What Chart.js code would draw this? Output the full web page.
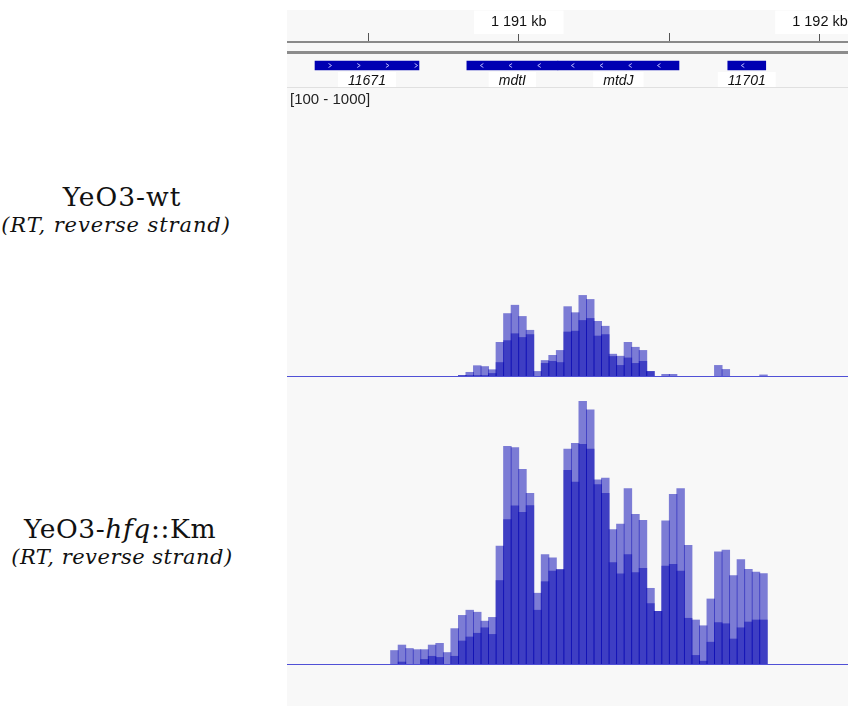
<!DOCTYPE html>
<html>
<head>
<meta charset="utf-8">
<script src="https://cdn.jsdelivr.net/npm/chart.js@4.4.1/dist/chart.umd.min.js"></script>
<style>
    body { margin: 0; width: 848px; height: 706px; position: relative; overflow: hidden; background: #fff;
           font-family: "Liberation Sans", Arial, sans-serif; }
    #panel { position: absolute; left: 287px; top: 10px; width: 561px; height: 696px; background: #f8f8f8; }
    .rule { position: absolute; left: 287px; width: 561px; }
    #hdrline { top: 51px; height: 3px; background: #8c8c8c; }
    #sep { top: 87px; height: 1px; background: #e0e0e0; }
    #range { position: absolute; left: 290px; top: 90px; font-size: 15px; line-height: 17px; color: #222; }
    .lbl { position: absolute; left: 0; width: 244px; text-align: center; line-height: 1;
           font-family: "DejaVu Serif", serif; color: #111; white-space: nowrap; }
    .t { font-size: 26.5px; letter-spacing: 1px; }
    .s { font-size: 21px; font-style: italic; letter-spacing: 0.9px; }
    canvas { position: absolute; left: 287px; }
    #genes { top: 0; }
    #wt { top: 88px; }
    #hfq { top: 376px; }
</style>
</head>
<body>
<div id="panel"></div>
<div class="rule" id="hdrline"></div>
<div class="rule" id="sep"></div>

<div class="lbl t" style="top:184px">YeO3-wt</div>
<div class="lbl s" style="top:215px; left:-6px">(RT, reverse strand)</div>
<div class="lbl t" style="top:516px; left:-2px; letter-spacing:0.6px">YeO3-<i>hfq</i>::Km</div>
<div class="lbl s" style="top:547px; letter-spacing:0.5px">(RT, reverse strand)</div>

<canvas id="genes" width="561" height="89"></canvas>
<canvas id="wt" width="561" height="291"></canvas>
<canvas id="hfq" width="561" height="330"></canvas>
<div id="range">[100 - 1000]</div>

<script>
// visible window (bp) and ruler ticks
var xMin = 1190231;
var xMax = 1192093;
var rulerTicks = [1190500, 1191000, 1191500, 1192000];

// genes
var geneNames = ['11671', 'mdtI', 'mtdJ', '11701'];
var geneStarts = [1190324, 1190828, 1191130, 1191694];
var geneEnds = [1190669, 1191130, 1191532, 1191820];
var geneStrands = ['+', '-', '-', '-'];

// coverage bins, 25 bp each
var binStart = 1190575;
var binSize = 25;

// YeO3-wt, two replicates
var wtRep1 = [0, 0, 0, 0, 0, 0, 0, 0, 0, 3,
              14, 37, 34, 23, 118, 218, 247, 208, 160, 17,
              55, 73, 90, 242, 221, 281, 267, 191, 174, 77,
              70, 118, 101, 90, 17, 0, 7, 7, 0, 0,
              0, 0, 0, 38, 24, 0, 0, 0, 0, 5];
var wtRep2 = [0, 0, 0, 0, 0, 0, 0, 0, 0, 3,
              3, 3, 3, 10, 48, 124, 148, 135, 145, 0,
              45, 52, 48, 154, 157, 194, 201, 140, 145, 69,
              38, 64, 45, 52, 17, 0, 0, 0, 0, 0,
              0, 0, 0, 0, 0, 0, 0, 0, 0, 0];

// YeO3-hfq::Km, two replicates
var hfqRep1 = [48, 67, 55, 51, 51, 67, 73, 41, 124, 170,
               188, 181, 150, 163, 411, 757, 753, 677, 594, 247,
               381, 370, 329, 747, 767, 913, 884, 641, 647, 468,
               487, 610, 521, 500, 264, 184, 498, 590, 610, 413,
               154, 134, 227, 391, 397, 308, 364, 330, 320, 315];
var hfqRep2 = [0, 8, 0, 0, 17, 28, 24, 0, 28, 81,
               95, 108, 127, 104, 291, 503, 550, 528, 551, 188,
               287, 324, 329, 674, 633, 764, 747, 624, 594, 353,
               314, 381, 319, 333, 211, 184, 341, 347, 324, 160,
               31, 11, 77, 145, 141, 88, 127, 147, 154, 154];

var trackColor = 'rgba(0, 0, 178, 0.5)';
var baseColor = '#5050d6';

Chart.defaults.font.family = '"Liberation Sans", Arial, sans-serif';

function kb(v) {
    return String(Math.round(v / 1000)).replace(/\B(?=(\d{3})+(?!\d))/g, ' ') + ' kb';
}

function toPoints(values) {
    return values.map(function (v, i) {
        return {x: binStart + binSize * i + binSize / 2, y: v};
    });
}

// arrows and names on the gene boxes
var geneGlyphs = {
    id: 'geneGlyphs',
    afterDatasetsDraw: function (chart) {
        var ctx = chart.ctx;
        var sx = chart.scales.x;
        ctx.save();
        for (var i = 0; i < geneNames.length; i++) {
            var x0 = sx.getPixelForValue(geneStarts[i]);
            var x1 = sx.getPixelForValue(geneEnds[i]);
            var yc = chart.getDatasetMeta(i).data[0].y;
            var d = geneStrands[i] === '+' ? 1 : -1;
            ctx.strokeStyle = 'rgba(190, 190, 255, 0.95)';
            ctx.lineWidth = 1;
            for (var cx = x0 + 15; cx < x1 - 2; cx += 28.7) {
                ctx.beginPath();
                ctx.moveTo(cx - d * 1.5, yc - 2);
                ctx.lineTo(cx + d * 1.5, yc);
                ctx.lineTo(cx - d * 1.5, yc + 2);
                ctx.stroke();
            }
            ctx.font = 'italic 14px "Liberation Sans", Arial, sans-serif';
            var w = ctx.measureText(geneNames[i]).width;
            var mid = (x0 + x1) / 2;
            ctx.fillStyle = '#fff';
            ctx.fillRect(mid - w / 2 - 10, 72, w + 20, 15);
            ctx.fillStyle = '#111';
            ctx.textAlign = 'center';
            ctx.fillText(geneNames[i], mid, 85);
        }
        ctx.restore();
    }
};

// ruler + gene track
new Chart(document.getElementById('genes'), {
    type: 'bar',
    data: {
        labels: ['genes'],
        datasets: geneNames.map(function (name, i) {
            return {
                label: name,
                data: [[geneStarts[i], geneEnds[i]]],
                backgroundColor: '#0000b2',
                barThickness: 9,
                grouped: false
            };
        })
    },
    options: {
        indexAxis: 'y',
        responsive: false,
        animation: false,
        layout: {padding: 0},
        plugins: {legend: {display: false}, tooltip: {enabled: false}},
        scales: {
            x: {
                type: 'linear',
                position: 'top',
                min: xMin,
                max: xMax,
                afterBuildTicks: function (s) {
                    s.ticks = rulerTicks.map(function (v) { return {value: v}; });
                },
                afterFit: function (s) {
                    s.height = 42;
                    s.paddingLeft = 0;
                    s.paddingRight = 0;
                },
                grid: {drawOnChartArea: false, drawTicks: true, tickLength: 9, color: '#555'},
                border: {display: true, color: '#8a8a8a', width: 2},
                ticks: {
                    autoSkip: false,
                    maxRotation: 0,
                    padding: 2,
                    color: '#111',
                    font: {size: 14.5},
                    showLabelBackdrop: function (c) { return c.tick.value % 1000 === 0; },
                    backdropColor: '#fff',
                    backdropPadding: {x: 17, y: 3},
                    callback: function (v) { return v % 1000 === 0 ? kb(v) : ''; }
                }
            },
            y: {display: false}
        }
    },
    plugins: [geneGlyphs]
});

function coverageChart(id, rep1, rep2, padBottom) {
    var bars = {backgroundColor: trackColor, grouped: false, barPercentage: 1.12, categoryPercentage: 1};
    return new Chart(document.getElementById(id), {
        type: 'bar',
        data: {
            datasets: [
                Object.assign({label: 'rep1', data: toPoints(rep1)}, bars),
                Object.assign({label: 'rep2', data: toPoints(rep2)}, bars)
            ]
        },
        options: {
            responsive: false,
            animation: false,
            layout: {padding: {bottom: padBottom}},
            plugins: {legend: {display: false}, tooltip: {enabled: false}},
            scales: {
                x: {
                    type: 'linear',
                    min: xMin,
                    max: xMax,
                    offset: false,
                    ticks: {display: false},
                    grid: {display: false, drawTicks: false},
                    border: {display: true, color: baseColor, width: 1}
                },
                y: {display: false, min: 0, max: 1000}
            }
        }
    });
}

coverageChart('wt', wtRep1, wtRep2, 3);
coverageChart('hfq', hfqRep1, hfqRep2, 42);
</script>
</body>
</html>
